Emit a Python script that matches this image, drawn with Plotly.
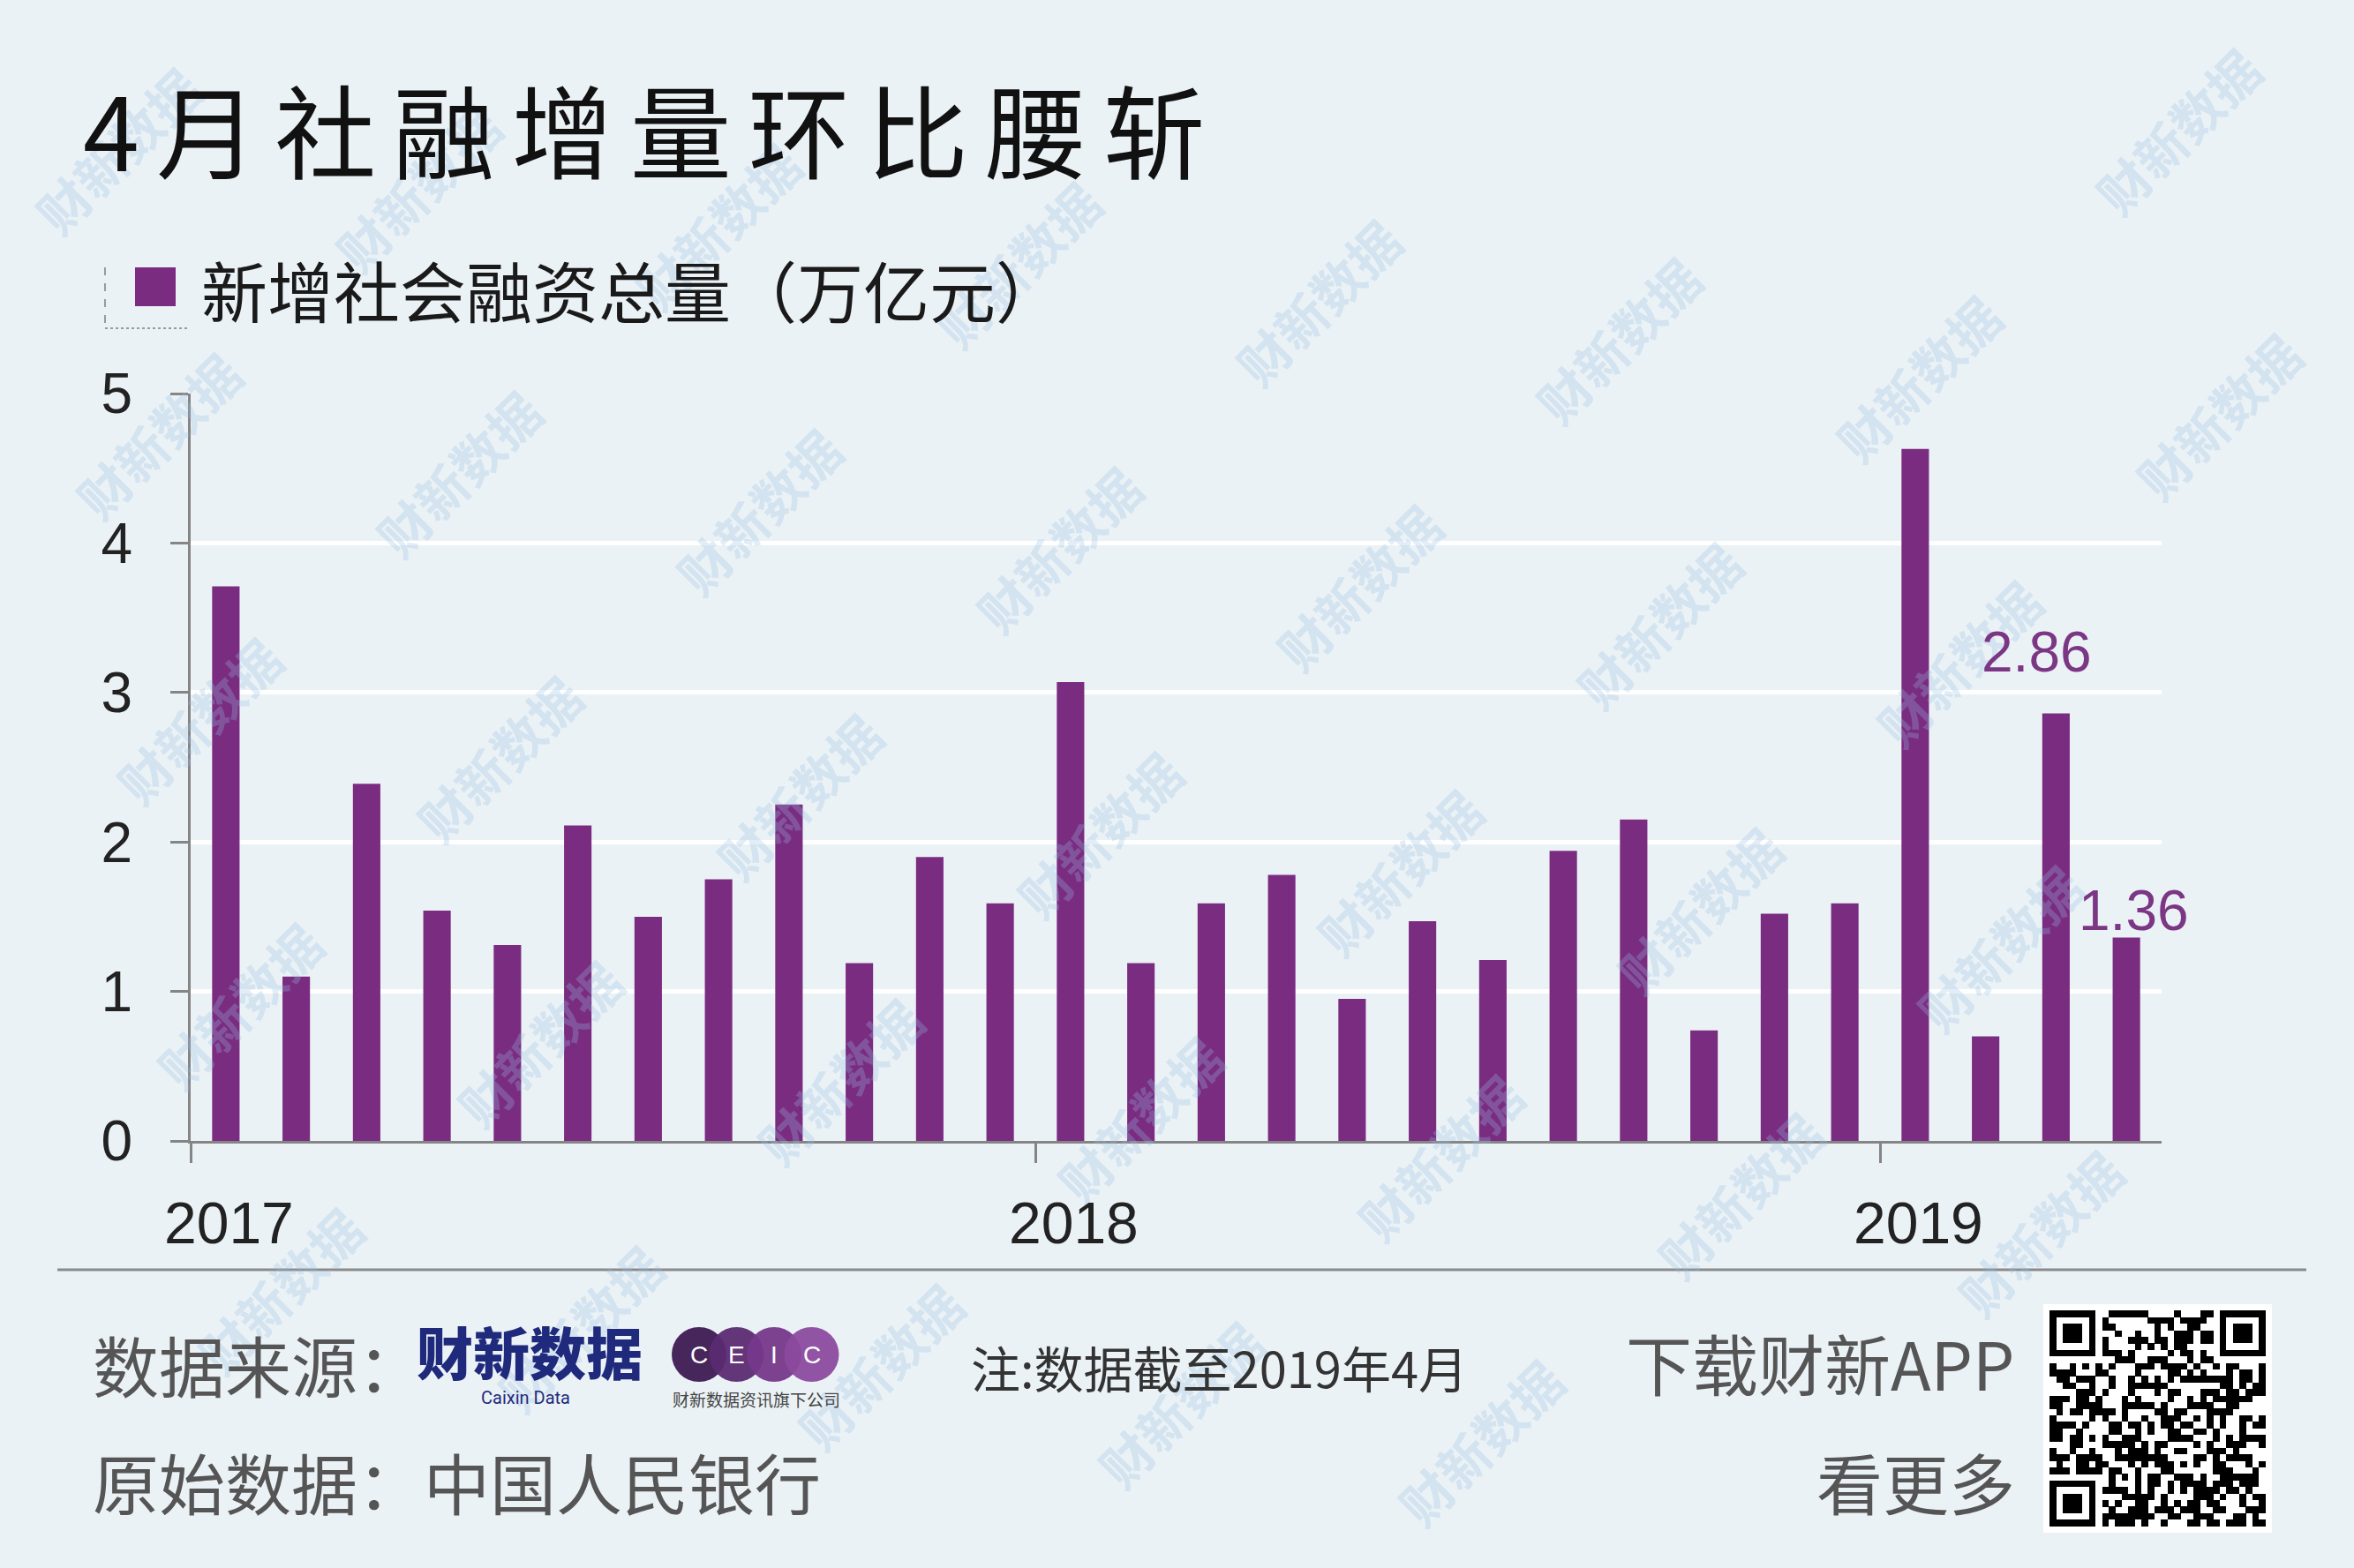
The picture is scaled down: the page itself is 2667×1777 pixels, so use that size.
import hashlib
import base64
import plotly.graph_objects as go

# ---------------- data ----------------
months = ["2017-01", "2017-02", "2017-03", "2017-04", "2017-05", "2017-06",
          "2017-07", "2017-08", "2017-09", "2017-10", "2017-11", "2017-12",
          "2018-01", "2018-02", "2018-03", "2018-04", "2018-05", "2018-06",
          "2018-07", "2018-08", "2018-09", "2018-10", "2018-11", "2018-12",
          "2019-01", "2019-02", "2019-03", "2019-04"]
values = [3.71, 1.10, 2.39, 1.54, 1.31, 2.11, 1.50, 1.75, 2.25, 1.19, 1.90, 1.59,
          3.07, 1.19, 1.59, 1.78, 0.95, 1.47, 1.21, 1.94, 2.15, 0.74, 1.52, 1.59,
          4.63, 0.70, 2.86, 1.36]
year_labels = ["2017", "2018", "2019"]
year_first_month = ["2017-01", "2018-01", "2019-01"]
y_ticks = [0, 1, 2, 3, 4, 5]
labelled_months = ["2019-03", "2019-04"]
series_name = "新增社会融资总量（万亿元）"
title_text = "4月社融增量环比腰斩"

# ---------------- styling ----------------
W, H = 2667, 1777
L, R, T, B = 216, 2449, 446, 1293          # plot area in pixels
BG = "#ebf2f6"
PURPLE = "#7a2c81"
LABEL_PURPLE = "#7b3684"
AXIS_GRAY = "#858585"
CJK = "Noto Sans CJK SC"
LAT = "Liberation Sans, Arial, sans-serif"


def px(xp):
    return (xp - L) / (R - L)


def py(yp):
    return (B - yp) / (B - T)


xidx = list(range(len(months)))
year_pos = [months.index(m) for m in year_first_month]
year_bounds = [p - 0.5 for p in year_pos]

fig = go.Figure()
fig.add_trace(go.Bar(
    x=xidx, y=values, width=0.39, marker=dict(color=PURPLE, line=dict(width=0)),
    name=series_name, showlegend=False, hoverinfo="y",
))

annotations = []
shapes = []


def note(xp, yp, text, size, color, family=CJK, xanchor="left", weight=None, **kw):
    f = dict(family=family, size=size, color=color)
    if weight:
        f["weight"] = weight
    d = dict(x=px(xp), y=py(yp), xref="paper", yref="paper", text=text,
             showarrow=False, xanchor=xanchor, yanchor="middle", font=f)
    d.update(kw)
    annotations.append(d)


# ---------------- watermarks (faint) ----------------
wm_color = "rgba(150,190,225,0.28)"
for r in range(-2, 6):
    for c in range(-1, 9):
        xw = 179 + 340 * c + 46 * r
        yw = 493 + 43 * c + 323 * r
        if 110 < xw < W - 110 and 110 < yw < H - 110:
            note(xw, yw, "财新数据", 58, wm_color, xanchor="center", weight=700,
                 textangle=-45)

# ---------------- title ----------------
note(92, 144, "\u2006".join(title_text), 115, "#111111")

# ---------------- custom legend ----------------
shapes.append(dict(type="rect", xref="paper", yref="paper",
                   x0=px(153), x1=px(199), y0=py(303), y1=py(347),
                   fillcolor=PURPLE, line=dict(width=0), layer="above"))
shapes.append(dict(type="line", xref="paper", yref="paper",
                   x0=px(119), x1=px(119), y0=py(303), y1=py(372),
                   line=dict(color="#9a9a9a", width=2, dash="dash")))
shapes.append(dict(type="line", xref="paper", yref="paper",
                   x0=px(119), x1=px(213), y0=py(372), y1=py(372),
                   line=dict(color="#9a9a9a", width=2, dash="dot")))
note(226, 327, series_name, 75, "#1a1a1a")

# ---------------- year labels ----------------
for lab, pos in zip(year_labels, year_pos):
    annotations.append(dict(
        x=pos, y=0, xref="x", yref="y", xanchor="center", yanchor="middle",
        text=lab, showarrow=False, yshift=-93, xshift=4,
        font=dict(family=LAT, size=66, color="#222222"),
    ))

# ---------------- value labels ----------------
label_shift = {"2019-03": (-22, 70), "2019-04": (8, 31)}
for m in labelled_months:
    i = months.index(m)
    dx, dy = label_shift[m]
    annotations.append(dict(
        x=i, y=values[i], xref="x", yref="y", xanchor="center", yanchor="middle",
        text=f"{values[i]:.2f}", showarrow=False, xshift=dx, yshift=dy,
        font=dict(family=LAT, size=64, color=LABEL_PURPLE),
    ))

# ---------------- footer ----------------
shapes.append(dict(type="line", xref="paper", yref="paper",
                   x0=px(65), x1=px(2613), y0=py(1439), y1=py(1439),
                   line=dict(color="#8a8a8a", width=3)))

FOOT = "#555555"
note(103, 1545, "数据来源：", 75, FOOT)
note(103, 1678, "原始数据：中国人民银行", 75, FOOT)
note(1098, 1548, "注:数据截至2019年4月", 56, "#333333")
note(2285, 1543, "下载财新APP", 75, FOOT, xanchor="right")
note(2285, 1678, "看更多", 75, FOOT, xanchor="right")
# Caixin Data logo
note(470, 1530, "财新数据", 64, "#1f2a7c", weight=900)
note(595, 1584, "Caixin Data", 20, "#1f2a7c", family="Roboto", xanchor="center")
# CEIC logo
ceic_cols = ["#3e1a52", "#5c2a72", "#76388a", "#8c4a9e"]
ceic_letters = ["C", "E", "I", "C"]
for k, (col, letter) in enumerate(zip(ceic_cols, ceic_letters)):
    cx = 792 + 42.5 * k
    cy = 1535
    rr = 31
    shapes.append(dict(type="circle", xref="paper", yref="paper",
                       x0=px(cx - rr), x1=px(cx + rr), y0=py(cy + rr), y1=py(cy - rr),
                       fillcolor=col, line=dict(width=0), layer="above",
                       opacity=0.95))
    note(cx, cy, letter, 28, "white", family=LAT, xanchor="center")
note(857, 1585, "财新数据资讯旗下公司", 19, "#444444", xanchor="center")

# ---------------- QR-like decoration (SVG image) ----------------
N = 33
bits = ""
seed = b"caixin-app-download"
while len(bits) < N * N:
    seed = hashlib.sha256(seed).digest()
    bits += "".join(f"{b:08b}" for b in seed)
cells = []


def in_finder(r, c):
    for (fr, fc) in [(0, 0), (0, N - 7), (N - 7, 0)]:
        if fr - 1 <= r <= fr + 7 and fc - 1 <= c <= fc + 7:
            return True
    return False


for r in range(N):
    for c in range(N):
        if in_finder(r, c):
            continue
        if bits[r * N + c] == "1":
            cells.append(f'<rect x="{c}" y="{r}" width="1.02" height="1.02"/>')
for (fr, fc) in [(0, 0), (0, N - 7), (N - 7, 0)]:
    cells.append(f'<rect x="{fc}" y="{fr}" width="7" height="7"/>')
    cells.append(f'<rect x="{fc+1}" y="{fr+1}" width="5" height="5" fill="white"/>')
    cells.append(f'<rect x="{fc+2}" y="{fr+2}" width="3" height="3"/>')
svg = (f'<svg xmlns="http://www.w3.org/2000/svg" viewBox="-1 -1 {N+2} {N+2}" '
       f'shape-rendering="crispEdges"><rect x="-1" y="-1" width="{N+2}" height="{N+2}" fill="white"/>'
       f'<g fill="black">{"".join(cells)}</g></svg>')
svg_uri = "data:image/svg+xml;base64," + base64.b64encode(svg.encode()).decode()

fig.update_layout(
    width=W, height=H,
    margin=dict(l=L, r=W - R, t=T, b=H - B, pad=0),
    paper_bgcolor=BG, plot_bgcolor=BG,
    annotations=annotations,
    shapes=shapes,
    images=[dict(source=svg_uri, xref="paper", yref="paper",
                 x=px(2315), y=py(1478), sizex=px(2574) - px(2315), sizey=py(1478) - py(1737),
                 xanchor="left", yanchor="top", sizing="stretch", layer="above")],
    xaxis=dict(
        range=[-0.5, len(months) - 0.5], showgrid=False, zeroline=False,
        showline=True, linecolor=AXIS_GRAY, linewidth=3,
        tickvals=year_bounds, ticktext=["", "", ""], ticks="outside",
        ticklen=22, tickwidth=3, tickcolor=AXIS_GRAY,
        fixedrange=True,
    ),
    yaxis=dict(
        range=[0, 5], tickvals=y_ticks, showgrid=True, gridcolor="white", gridwidth=5,
        zeroline=False, showline=True, linecolor=AXIS_GRAY, linewidth=3,
        ticks="outside", ticklen=20, tickwidth=3, tickcolor=AXIS_GRAY,
        ticklabelstandoff=30,
        tickfont=dict(family=LAT, size=64, color="#222222"),
        fixedrange=True,
    ),
    showlegend=False,
)

fig.write_html("out.html", config={"displayModeBar": False},
               post_script="document.body.style.margin='0';document.body.style.overflow='hidden';")
